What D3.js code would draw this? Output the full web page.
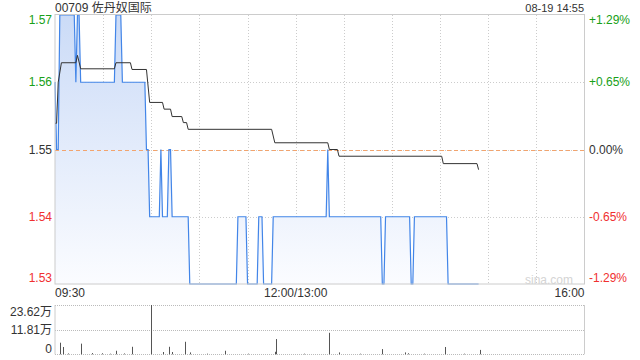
<!DOCTYPE html>
<html>
<head>
<meta charset="utf-8">
<script src="https://cdn.jsdelivr.net/npm/d3@7"></script>
<style>
  body { margin: 0; background: #fff; }
  text { font-family: Arial, "Liberation Sans", "Noto Sans CJK SC", sans-serif; }
</style>
</head>
<body>
<div id="chart"></div>
<script>
const W = 640, H = 360;
const left = 55, right = 584.5;
const priceTop = 15, priceBottom = 284;
const volTop = 305, volBottom = 354.3;

const title = "00709 佐丹奴国际";
const stamp = "08-19 14:55";
const prevClose = 1.55;

// price ticks and labels
const priceTicks = [1.57, 1.56, 1.55, 1.54, 1.53];
const pctLabels = ["+1.29%", "+0.65%", "0.00%", "-0.65%", "-1.29%"];
const timeLabels = ["09:30", "12:00/13:00", "16:00"];
const volTicks = [23.62, 11.81, 0];

// last price (time, price)
const priceTimes = ["09:30","09:31","09:32","09:33","09:42","09:43","09:44","09:45","09:46",
  "10:07","10:08","10:11","10:12","10:26","10:27","10:28","10:29","10:35","10:36","10:37",
  "10:40","10:41","10:42","10:43","10:53","10:54","11:23","11:24","11:29","11:30","11:36",
  "11:37","11:39","11:40","11:45","11:46","13:19","13:20","13:21","13:53","13:54","13:55",
  "13:56","14:11","14:12","14:13","14:14","14:34","14:35","14:54"];
const priceValues = [1.56,1.55,1.55,1.57,1.57,1.56,1.57,1.57,1.56,
  1.56,1.57,1.57,1.56,1.56,1.55,1.55,1.54,1.54,1.55,1.54,
  1.54,1.55,1.55,1.54,1.54,1.53,1.53,1.54,1.54,1.53,1.53,
  1.54,1.54,1.53,1.53,1.54,1.54,1.55,1.54,1.54,1.53,1.53,
  1.54,1.54,1.53,1.53,1.54,1.54,1.53,1.53];

// average price
const avgTimes = ["09:30","09:31","09:32","09:34","09:43","09:44","09:46","10:07","10:08",
  "10:17","10:18","10:27","10:29","10:37","10:38","10:42","10:43","10:49","10:50","10:52",
  "10:53","11:45","11:47","13:20","13:21","13:26","13:27","14:31","14:32","14:53","14:54"];
const avgValues = [1.5539,1.5539,1.5600,1.5629,1.5629,1.5640,1.5620,1.5620,1.5629,
  1.5629,1.5619,1.5619,1.5570,1.5570,1.5560,1.5560,1.5549,1.5549,1.5540,1.5540,
  1.5530,1.5530,1.5510,1.5510,1.5500,1.5500,1.5490,1.5490,1.5479,1.5479,1.5470];

// volume in 万
const volTimes = ["09:33","09:35","09:38","09:46","09:53","09:59","10:04","10:08","10:13","10:18",
  "10:30","10:37","10:41","10:43","10:51","10:54","11:05","11:16","11:30","11:47","11:48",
  "13:05","13:21","13:27","13:40","13:54","14:08","14:10","14:20","14:33","14:45","14:55"];
const volValues = [5.56,3.5,0.4,5.1,0.6,0.5,0.3,1.7,0.4,3.6,
  23.62,1.1,3.6,1.1,6.0,0.9,0.3,1.7,0.3,1.2,7.3,
  0.3,10.3,0.9,0.3,2.5,0.9,0.5,0.3,3.5,0.3,2.1];

function toMin(t) {
  const [h, m] = t.split(":").map(Number);
  const v = h * 60 + m;
  return v <= 720 ? v - 570 : v - 780 + 150;
}

const svg = d3.select("#chart").append("svg")
  .attr("width", W).attr("height", H);

const x = d3.scaleLinear().domain([0, 330]).range([left, right]);
const y = d3.scaleLinear().domain([1.53, 1.57]).range([priceBottom, priceTop]);
const yv = d3.scaleLinear().domain([0, 23.62]).range([volBottom, volTop]);

const defs = svg.append("defs");
const grad = defs.append("linearGradient").attr("id", "fillGrad")
  .attr("gradientUnits", "userSpaceOnUse")
  .attr("x1", 0).attr("x2", 0).attr("y1", priceTop).attr("y2", priceBottom);
grad.append("stop").attr("offset", "0%").attr("stop-color", "#cbdbf7");
grad.append("stop").attr("offset", "100%").attr("stop-color", "#fbfcff");

// grid
const grid = svg.append("g").attr("stroke", "#ccc").attr("stroke-dasharray", "1,2");
grid.selectAll(".hg").data(priceTicks.slice(1, 4)).enter().append("line")
  .attr("x1", left).attr("x2", right)
  .attr("y1", d => Math.round(y(d)) + 0.5).attr("y2", d => Math.round(y(d)) + 0.5);
grid.selectAll(".vg").data(d3.range(30, 330, 30)).enter().append("line")
  .attr("y1", priceTop).attr("y2", priceBottom)
  .attr("x1", d => Math.round(x(d)) + 0.5).attr("x2", d => Math.round(x(d)) + 0.5);

// area + price line
const pts = priceTimes.map((t, i) => [toMin(t), priceValues[i]]);
svg.append("path").datum(pts)
  .attr("fill", "url(#fillGrad)")
  .attr("d", d3.area().x(d => x(d[0])).y0(priceBottom).y1(d => y(d[1])));

// previous close dashed line
svg.append("line")
  .attr("x1", left).attr("x2", right)
  .attr("y1", Math.round(y(prevClose)) + 0.5).attr("y2", Math.round(y(prevClose)) + 0.5)
  .attr("stroke", "#f2a46e").attr("stroke-dasharray", "4,3");

svg.append("path").datum(pts)
  .attr("fill", "none").attr("stroke", "#4285e8").attr("stroke-width", 1.2)
  .attr("d", d3.line().x(d => x(d[0])).y(d => y(d[1])));

const avgPts = avgTimes.map((t, i) => [toMin(t), avgValues[i]]);
svg.append("path").datum(avgPts)
  .attr("fill", "none").attr("stroke", "#333").attr("stroke-width", 1)
  .attr("d", d3.line().x(d => x(d[0])).y(d => y(d[1])));

// frame
const frame = svg.append("g").attr("stroke", "#ccc").attr("fill", "none");
frame.append("rect").attr("x", left).attr("y", priceTop - 0.5)
  .attr("width", right - left).attr("height", priceBottom - priceTop + 0.5);

// labels
const col = (i) => i < 2 ? "#18a018" : i === 2 ? "#333" : "#f03030";
const lblY = (d, i) => i === 0 ? y(d) + 5 : i === 4 ? y(d) - 6 : y(d);
svg.selectAll(".pl").data(priceTicks).enter().append("text")
  .attr("x", 52).attr("y", lblY).attr("dy", "0.35em")
  .attr("text-anchor", "end").attr("font-size", 12)
  .attr("fill", (d, i) => col(i)).text(d => d.toFixed(2));
svg.selectAll(".rl").data(priceTicks).enter().append("text")
  .attr("x", 589).attr("y", lblY).attr("dy", "0.35em")
  .attr("font-size", 12)
  .attr("fill", (d, i) => col(i)).text((d, i) => pctLabels[i]);

svg.append("text").attr("x", 55).attr("y", 12).attr("font-size", 12)
  .attr("fill", "#333").text(title);
svg.append("text").attr("x", 584).attr("y", 12).attr("font-size", 11)
  .attr("text-anchor", "end").attr("fill", "#333").text(stamp);
svg.append("text").attr("x", 573).attr("y", 280).attr("dy", "0.35em")
  .attr("font-size", 12).attr("text-anchor", "end").attr("fill", "#d4d4d4").text("sina.com");

const tpos = [0, 150, 330];
const tanchor = ["start", "middle", "end"];
svg.selectAll(".tl").data(timeLabels).enter().append("text")
  .attr("x", (d, i) => x(tpos[i])).attr("y", 293).attr("dy", "0.35em")
  .attr("font-size", 12).attr("text-anchor", (d, i) => tanchor[i])
  .attr("fill", "#333").text(d => d);

// volume panel
const vgrid = svg.append("g").attr("stroke", "#bbb").attr("stroke-dasharray", "1,1");
vgrid.selectAll("line").data(volTicks).enter().append("line")
  .attr("x1", left).attr("x2", right)
  .attr("y1", d => Math.round(yv(d)) + 0.5).attr("y2", d => Math.round(yv(d)) + 0.5);
svg.append("g").attr("stroke", "#ccc").selectAll("line").data([left, right]).enter()
  .append("line").attr("x1", d => d).attr("x2", d => d)
  .attr("y1", volTop).attr("y2", volBottom);

svg.append("g").selectAll("line").data(volTimes).enter().append("line")
  .attr("x1", d => Math.round(x(toMin(d))) + 0.5).attr("x2", d => Math.round(x(toMin(d))) + 0.5)
  .attr("y1", volBottom).attr("y2", (d, i) => yv(volValues[i]))
  .attr("stroke", "#555").attr("stroke-width", 1);

const vlY = (d, i) => i === 0 ? yv(d) + 7 : i === 2 ? yv(d) - 6 : yv(d);
svg.selectAll(".vl").data(volTicks).enter().append("text")
  .attr("x", 52).attr("y", vlY).attr("dy", "0.35em")
  .attr("text-anchor", "end").attr("font-size", 12).attr("fill", "#333")
  .text(d => d === 0 ? "0" : d.toFixed(2) + "万");
</script>
</body>
</html>
